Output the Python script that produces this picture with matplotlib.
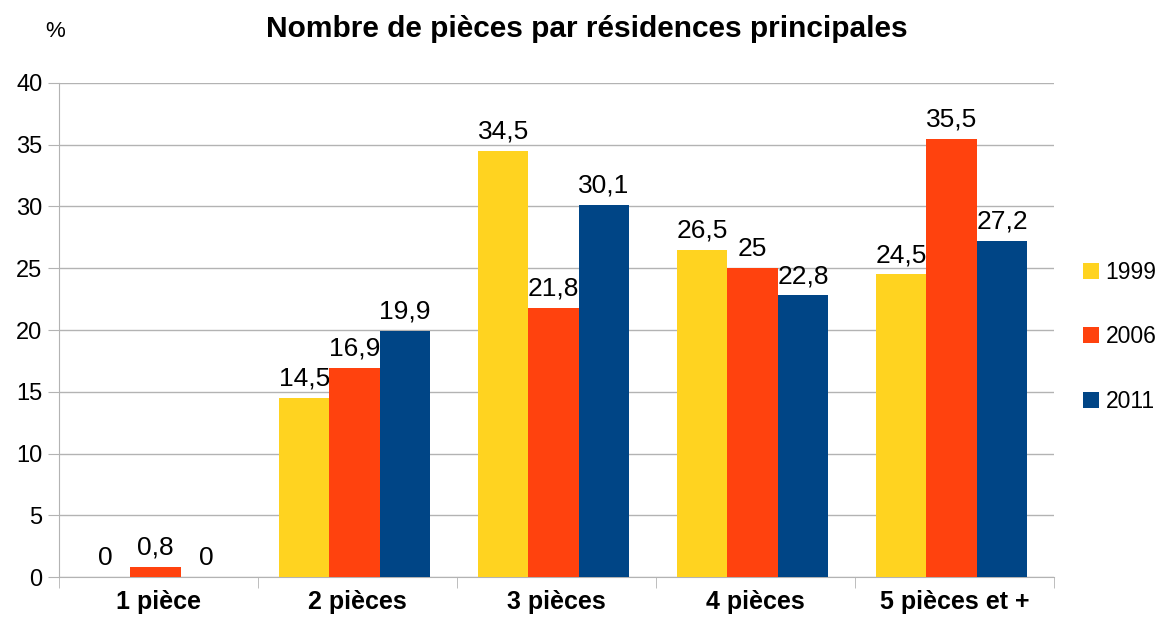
import matplotlib
matplotlib.use("Agg")
import matplotlib.pyplot as plt
import numpy as np

plt.rcParams['font.family'] = ['Liberation Sans', 'DejaVu Sans']

categories = ["1 pièce", "2 pièces", "3 pièces", "4 pièces", "5 pièces et +"]
years = ["1999", "2006", "2011"]
v1999 = [0, 14.5, 34.5, 26.5, 24.5]
v2006 = [0.8, 16.9, 21.8, 25, 35.5]
v2011 = [0, 19.9, 30.1, 22.8, 27.2]
colors = ["#FFD320", "#FF420E", "#004586"]

fig = plt.figure(figsize=(11.68, 6.24), dpi=100)
ax = fig.add_axes([0.0505, 0.0753, 0.852, 0.7917])

x = np.arange(len(categories))
w = 0.253
for i, (vals, lab, c) in enumerate(zip([v1999, v2006, v2011], years, colors)):
    pos = x + (i - 1) * w - 0.015
    ax.bar(pos, vals, width=w, color=c, label=lab, zorder=3)
    for p, v in zip(pos, vals):
        txt = ("%g" % v).replace(".", ",")
        ax.text(p, v + 0.6, txt, ha="center", va="bottom", fontsize=19)

ax.set_xlim(-0.5, len(categories) - 0.5)
ax.set_ylim(0, 40)
ax.set_yticks(range(0, 41, 5))
ax.yaxis.grid(True, color="#b3b3b3", linewidth=1, zorder=0)
ax.tick_params(axis="y", labelsize=17, length=8, color="#b3b3b3", pad=4)
ax.set_xticks(x)
ax.set_xticklabels(categories, fontsize=18, fontweight="bold")
ax.tick_params(axis="x", length=0, pad=9)
ax.set_xticks(np.arange(-0.5, len(categories), 1), minor=True)
ax.tick_params(axis="x", which="minor", length=8, color="#b3b3b3")
for s in ["top", "right"]:
    ax.spines[s].set_visible(False)
ax.spines["left"].set_color("#b3b3b3")
ax.spines["bottom"].set_color("#b3b3b3")

fig.text(0.502, 0.953, "Nombre de pièces par résidences principales", ha="center",
         va="center", fontsize=21.5, fontweight="bold")
fig.text(0.047, 0.95, "%", ha="center", va="center", fontsize=16)

ax.legend(loc="center left", bbox_to_anchor=(1.008, 0.486), frameon=False,
          fontsize=16.5, handlelength=0.7, handleheight=0.7, labelspacing=1.8,
          handletextpad=0.3)

fig.savefig("out.png", dpi=100)
